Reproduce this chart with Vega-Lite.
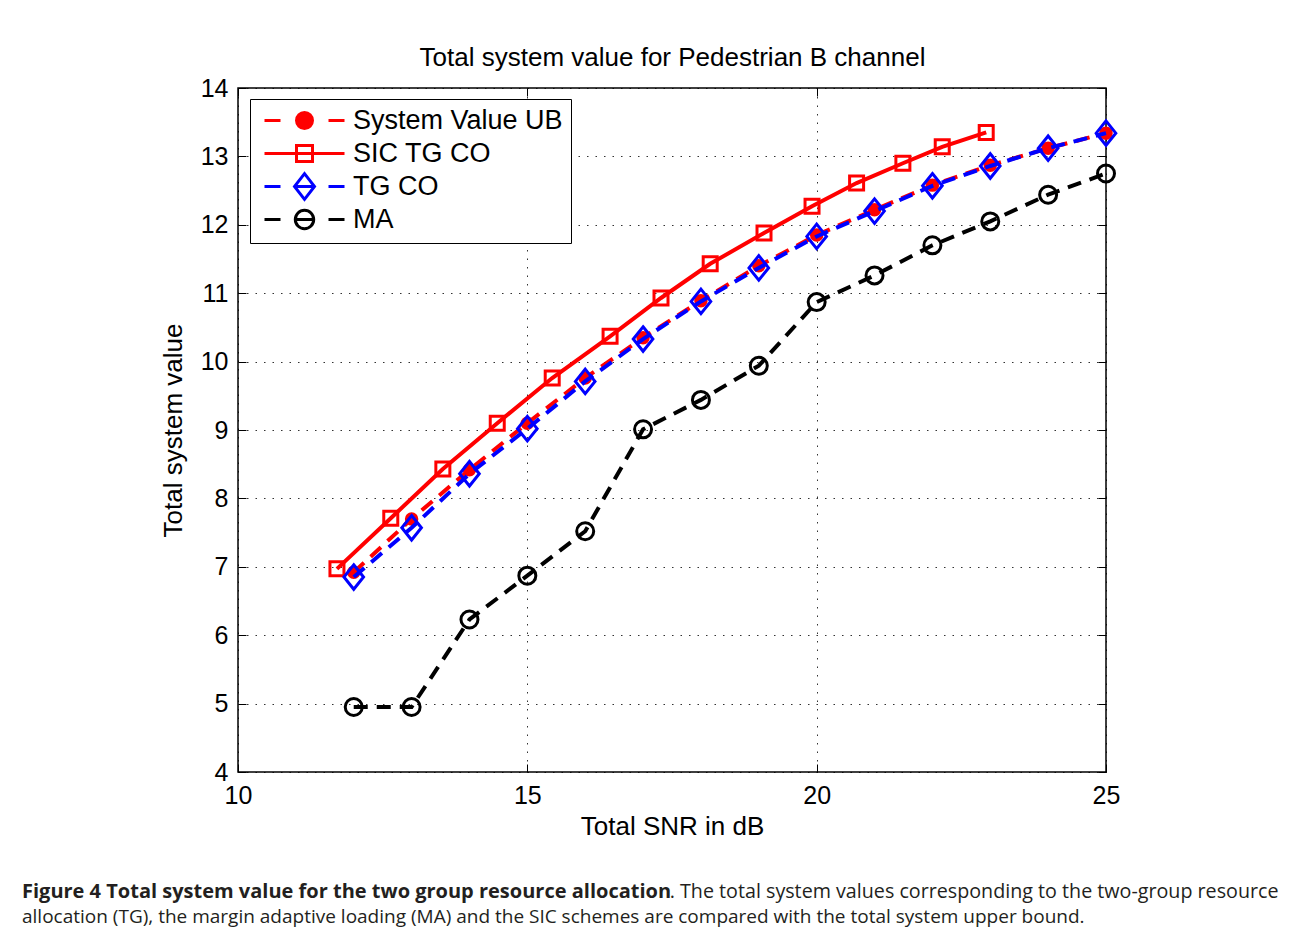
{
  "$schema": "https://vega.github.io/schema/vega-lite/v6.json",
  "autosize": {"type": "none"},
  "width": 868,
  "height": 684,
  "padding": {"left": 238, "top": 88, "right": 186, "bottom": 164},
  "background": "white",
  "title": {
    "text": "Figure 4 Total system value for the two group resource allocation",
    "subtitle": "allocation (TG), the margin adaptive loading (MA) and the SIC schemes are compared with the total system upper bound.",
    "orient": "bottom",
    "anchor": "start",
    "frame": "group",
    "dx": -216,
    "offset": -19,
    "font": "Open Sans",
    "fontSize": 20,
    "fontWeight": "bold",
    "color": "#231f20",
    "subtitleFont": "Open Sans",
    "subtitleFontSize": 19,
    "subtitleFontWeight": "normal",
    "subtitleColor": "#231f20",
    "subtitlePadding": 6
  },
  "data": {
    "values": [
      {"series": "System Value UB", "x": 12, "y": 6.92},
      {"series": "System Value UB", "x": 13, "y": 7.70},
      {"series": "System Value UB", "x": 14, "y": 8.42},
      {"series": "System Value UB", "x": 15, "y": 9.10},
      {"series": "System Value UB", "x": 16, "y": 9.76},
      {"series": "System Value UB", "x": 17, "y": 10.35},
      {"series": "System Value UB", "x": 18, "y": 10.89},
      {"series": "System Value UB", "x": 19, "y": 11.40},
      {"series": "System Value UB", "x": 20, "y": 11.85},
      {"series": "System Value UB", "x": 21, "y": 12.22},
      {"series": "System Value UB", "x": 22, "y": 12.58},
      {"series": "System Value UB", "x": 23, "y": 12.87},
      {"series": "System Value UB", "x": 24, "y": 13.12},
      {"series": "System Value UB", "x": 25, "y": 13.34},
      {"series": "SIC TG CO", "x": 11.71, "y": 6.97},
      {"series": "SIC TG CO", "x": 12.64, "y": 7.71},
      {"series": "SIC TG CO", "x": 13.54, "y": 8.43},
      {"series": "SIC TG CO", "x": 14.48, "y": 9.10},
      {"series": "SIC TG CO", "x": 15.43, "y": 9.76},
      {"series": "SIC TG CO", "x": 16.43, "y": 10.37},
      {"series": "SIC TG CO", "x": 17.31, "y": 10.93},
      {"series": "SIC TG CO", "x": 18.16, "y": 11.43},
      {"series": "SIC TG CO", "x": 19.09, "y": 11.88},
      {"series": "SIC TG CO", "x": 19.92, "y": 12.27},
      {"series": "SIC TG CO", "x": 20.69, "y": 12.61},
      {"series": "SIC TG CO", "x": 21.49, "y": 12.90},
      {"series": "SIC TG CO", "x": 22.17, "y": 13.14},
      {"series": "SIC TG CO", "x": 22.93, "y": 13.35},
      {"series": "TG CO", "x": 12, "y": 6.85},
      {"series": "TG CO", "x": 13, "y": 7.57},
      {"series": "TG CO", "x": 14, "y": 8.36},
      {"series": "TG CO", "x": 15, "y": 9.02},
      {"series": "TG CO", "x": 16, "y": 9.71},
      {"series": "TG CO", "x": 17, "y": 10.33},
      {"series": "TG CO", "x": 18, "y": 10.88},
      {"series": "TG CO", "x": 19, "y": 11.37},
      {"series": "TG CO", "x": 20, "y": 11.83},
      {"series": "TG CO", "x": 21, "y": 12.20},
      {"series": "TG CO", "x": 22, "y": 12.57},
      {"series": "TG CO", "x": 23, "y": 12.86},
      {"series": "TG CO", "x": 24, "y": 13.12},
      {"series": "TG CO", "x": 25, "y": 13.34},
      {"series": "MA", "x": 12, "y": 4.95},
      {"series": "MA", "x": 13, "y": 4.95},
      {"series": "MA", "x": 14, "y": 6.23},
      {"series": "MA", "x": 15, "y": 6.87},
      {"series": "MA", "x": 16, "y": 7.52},
      {"series": "MA", "x": 17, "y": 9.01},
      {"series": "MA", "x": 18, "y": 9.44},
      {"series": "MA", "x": 19, "y": 9.94},
      {"series": "MA", "x": 20, "y": 10.87},
      {"series": "MA", "x": 21, "y": 11.26},
      {"series": "MA", "x": 22, "y": 11.70},
      {"series": "MA", "x": 23, "y": 12.05},
      {"series": "MA", "x": 24, "y": 12.44},
      {"series": "MA", "x": 25, "y": 12.75}
    ]
  },
  "layer": [
    {
      "transform": [{"filter": "datum.series === 'System Value UB'"}],
      "mark": {"type": "line", "stroke": "#ff0000", "strokeWidth": 4, "strokeDash": [14, 9], "strokeCap": "butt",
               "point": {"shape": "circle", "size": 110, "filled": true, "fill": "#ff0000", "stroke": "#ff0000", "strokeWidth": 3, "opacity": 1}},
      "encoding": {
        "x": {"field": "x", "type": "quantitative",
              "scale": {"domain": [10, 25], "nice": false, "zero": false},
              "axis": {"orient": "bottom", "values": [10, 15, 20, 25], "grid": true, "labelFlush": false, "title": "Total SNR in dB", "labelPadding": 19, "titlePadding": 5}},
        "y": {"field": "y", "type": "quantitative",
              "scale": {"domain": [4, 14], "nice": false, "zero": false},
              "axis": {"orient": "left", "values": [4, 5, 6, 7, 8, 9, 10, 11, 12, 13, 14], "grid": true, "labelFlush": false, "title": "Total system value", "labelPadding": 18, "titlePadding": 14}}
      }
    },
    {
      "transform": [{"filter": "datum.series === 'SIC TG CO'"}],
      "mark": {"type": "line", "stroke": "#ff0000", "strokeWidth": 4, "strokeCap": "butt",
               "point": {"shape": "square", "size": 196, "filled": false, "stroke": "#ff0000", "strokeWidth": 3, "opacity": 1}},
      "encoding": {
        "x": {"field": "x", "type": "quantitative", "axis": null},
        "y": {"field": "y", "type": "quantitative", "axis": null}
      }
    },
    {
      "transform": [{"filter": "datum.series === 'TG CO'"}],
      "mark": {"type": "line", "stroke": "#0000ff", "strokeWidth": 4, "strokeDash": [14, 9], "strokeCap": "butt",
               "point": {"shape": "M0,-1.75L1.4,0L0,1.75L-1.4,0Z", "size": 196, "filled": false, "stroke": "#0000ff", "strokeWidth": 3, "opacity": 1}},
      "encoding": {
        "x": {"field": "x", "type": "quantitative", "axis": null},
        "y": {"field": "y", "type": "quantitative", "axis": null}
      }
    },
    {
      "transform": [{"filter": "datum.series === 'MA'"}],
      "mark": {"type": "line", "stroke": "#000000", "strokeWidth": 4, "strokeDash": [14, 9], "strokeCap": "butt",
               "point": {"shape": "circle", "size": 289, "filled": false, "stroke": "#000000", "strokeWidth": 3, "opacity": 1}},
      "encoding": {
        "x": {"field": "x", "type": "quantitative", "axis": null},
        "y": {"field": "y", "type": "quantitative", "axis": null}
      }
    },
    {
      "transform": [{"filter": "false"}],
      "mark": {"type": "point", "strokeWidth": 3, "opacity": 1},
      "encoding": {
        "x": {"field": "x", "type": "quantitative",
              "axis": {"orient": "top", "values": [10, 15, 20, 25], "labels": false, "grid": false, "title": "Total system value for Pedestrian B channel", "titlePadding": 17}},
        "y": {"field": "y", "type": "quantitative",
              "axis": {"orient": "right", "values": [4, 5, 6, 7, 8, 9, 10, 11, 12, 13, 14], "labels": false, "grid": false,
                       "title": ". The total system values corresponding to the two-group resource",
                       "titleAngle": 0, "titleX": 172, "titleY": 809, "titleAlign": "right", "titleBaseline": "alphabetic",
                       "titleFont": "Open Sans", "titleFontSize": 19.7, "titleFontWeight": "normal", "titleColor": "#231f20"}},
        "shape": {"field": "series", "type": "nominal",
                  "scale": {"domain": ["System Value UB", "SIC TG CO", "TG CO", "MA"],
                            "range": [
                              "M-5,0H-3M-1,0H1M3,0H5M1,0A1,1,0,1,1,-1,0A1,1,0,1,1,1,0Z",
                              "M-5,0H5M-1,-1H1V1H-1Z",
                              "M-5,0H-3M-1,0H1M3,0H5M0,-1.6L1.25,0L0,1.6L-1.25,0Z",
                              "M-5,0H-3M-1,0H1M3,0H5M1.15,0A1.15,1.15,0,1,1,-1.15,0A1.15,1.15,0,1,1,1.15,0Z"
                            ]},
                  "legend": {"orient": "none", "legendX": 12, "legendY": 11, "title": null,
                             "strokeColor": "black", "fillColor": "white", "padding": 8,
                             "symbolSize": 256, "symbolStrokeWidth": 3, "symbolOffset": 33, "labelOffset": 35,
                             "symbolOpacity": 1, "gridAlign": "all",
                             "labelFont": "Liberation Sans", "labelFontSize": 27, "labelColor": "black", "rowPadding": -6, "labelLimit": 400}},
        "stroke": {"field": "series", "type": "nominal",
                   "scale": {"domain": ["System Value UB", "SIC TG CO", "TG CO", "MA"], "range": ["#ff0000", "#ff0000", "#0000ff", "#000000"]}},
        "fill": {"field": "series", "type": "nominal",
                 "scale": {"domain": ["System Value UB", "SIC TG CO", "TG CO", "MA"], "range": ["#ff0000", "transparent", "transparent", "transparent"]}}
      }
    }
  ],
  "resolve": {"axis": {"x": "independent", "y": "independent"}},
  "config": {
    "font": "Liberation Sans",
    "view": {"stroke": "black", "strokeWidth": 1.5},
    "axis": {
      "domain": false,
      "ticks": true,
      "tickColor": "black",
      "tickSize": -8,
      "tickWidth": 1,
      "labelFont": "Liberation Sans",
      "labelFontSize": 25,
      "labelColor": "black",
      "titleFont": "Liberation Sans",
      "titleFontSize": 26,
      "titleFontWeight": "normal",
      "titleColor": "black",
      "gridColor": "black",
      "gridDash": [1.5, 7],
      "gridOpacity": 0.8,
      "gridWidth": 1
    }
  }
}
